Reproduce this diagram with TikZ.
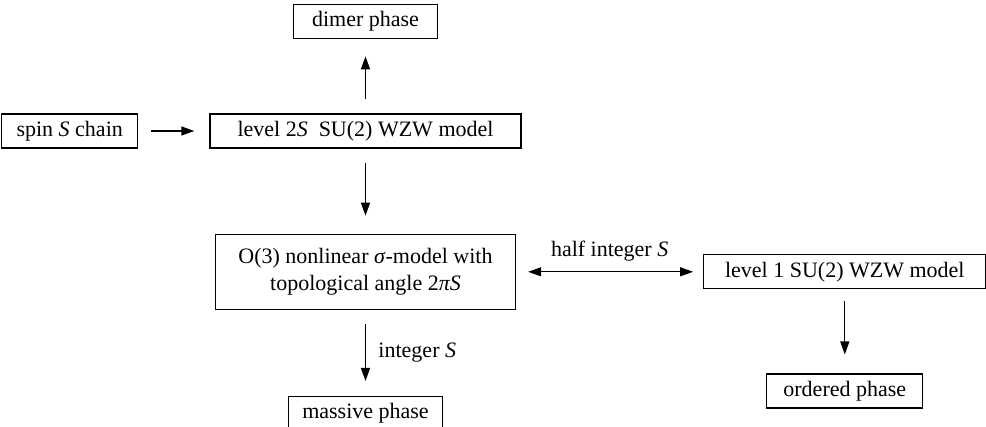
\documentclass[tikz,border=0pt]{standalone}
\usepackage{fontspec}
\setmainfont{Liberation Serif}
\usetikzlibrary{arrows.meta,positioning}

\begin{document}
\begin{tikzpicture}[
  x=1pt, y=-1pt,
  phasebox/.style={draw, line width=1.3pt, minimum height=34pt, inner xsep=12pt,
                   align=center, font=\fontsize{22}{27}\selectfont},
  arr/.style={-{Triangle[length=13pt,width=9pt]}, line width=1.3pt,
              shorten <=14pt, shorten >=15pt},
  lbl/.style={font=\fontsize{22}{27}\selectfont}
]
\useasboundingbox (0,0) rectangle (986,427);
\node[phasebox, minimum width=311pt] (wzw) at (365.5,131) {level 2\textit{S}\ \ SU(2) WZW model};
\node[phasebox, minimum width=144pt, above=74pt of wzw] (dimer) {dimer phase};
\node[phasebox, minimum width=136pt, left=71pt of wzw] (spin) {spin \textit{S} chain};
\node[phasebox, minimum width=300pt, minimum height=75pt, below=85pt of wzw] (sigma) {O(3) nonlinear \textit{σ}-model with\\topological angle 2\textit{πS}};
\node[phasebox, minimum width=154pt, below=86pt of sigma] (massive) {massive phase};
\node[phasebox, minimum width=282pt, right=187pt of sigma] (wzwone) {level 1 SU(2) WZW model};
\node[phasebox, minimum width=156pt, below=84pt of wzwone] (ordered) {ordered phase};
\draw[arr, shorten <=13pt] (spin) -- (wzw);
\draw[arr, shorten >=17pt] (wzw) -- (dimer);
\draw[arr, shorten >=18pt] (wzw) -- (sigma);
\draw[arr] (sigma) -- node[lbl, right=9pt]{integer \textit{S}} (massive);
\draw[arr, {Triangle[length=13pt,width=9pt]}-{Triangle[length=13pt,width=9pt]},
      shorten <=12pt, shorten >=10pt] (sigma) -- node[lbl, above=7pt]{half integer \textit{S}} (wzwone);
\draw[arr, shorten <=12pt, shorten >=19pt] (wzwone) -- (ordered);
\end{tikzpicture}
\end{document}
